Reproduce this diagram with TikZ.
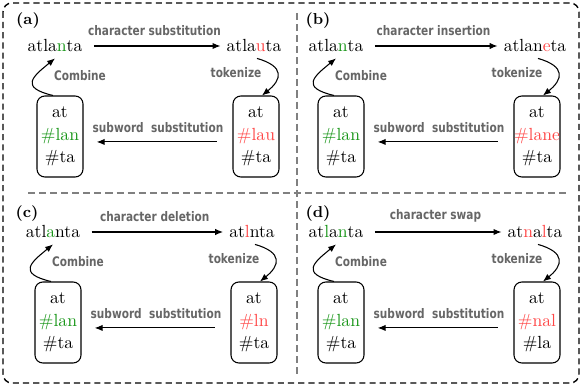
\documentclass[tikz,border=0pt]{standalone}
\usepackage{fontspec}
\newfontfamily\lblfont[FakeStretch=0.8]{DejaVu Sans}
\usepackage{xcolor}
\usepackage{tikz}
\usetikzlibrary{positioning,arrows.meta}

\definecolor{keepgreen}{RGB}{25,150,25}
\definecolor{editred}{RGB}{255,70,70}
\newcommand{\kept}[1]{\textcolor{keepgreen}{#1}}
\newcommand{\edit}[1]{\textcolor{editred}{#1}}

\begin{document}
\begin{tikzpicture}[
  x=0.2mm, y=-0.2mm,
  font=\normalsize,
  arr/.style={-{Latex[length=4.5pt,width=3.6pt]}, semithick},
  lbl/.style={font=\lblfont\bfseries\fontsize{7.5}{9}\selectfont, text=black!60, inner sep=0pt},
  wordbox/.style={draw, semithick, rounded corners=4.5pt, minimum width=0.92cm,
    minimum height=1.62cm, inner sep=0pt, align=center, font=\fontsize{10}{12.8}\selectfont},
  divider/.style={draw=gray, line width=0.6pt, dash pattern=on 4pt off 2.3pt}
]
\useasboundingbox (0,0) rectangle (582,386);
% --- frame and dividers ---
\draw[line width=0.8pt, dash pattern=on 3.5pt off 2.3pt, rounded corners=5pt] (3,3) rectangle (579,383);
\draw[divider] (297,13) -- (297,375);
\draw[divider] (28,193) -- (567,193);
% --- four panels ---
\foreach \px/\py/\lx/\ly/\pn/\src/\editname/\tgt/\midtok/\lasttok in {
  0/0/28/21/a/{atla\kept{n}ta}/{character substitution}/{atla\edit{u}ta}/{\#lau}/{\#ta},
  281/0/318/21/b/{atla\kept{n}ta}/{character insertion}/{atlan\edit{e}ta}/{\#lane}/{\#ta},
  -2/186/27/214/c/{atl\kept{a}nta}/{character deletion}/{at\edit{l}nta}/{\#ln}/{\#ta},
  281/186/318/214/d/{at\kept{l}a\kept{n}ta}/{character swap}/{at\edit{n}a\edit{l}ta}/{\#nal}/{\#la}} {
  \node[font=\small\bfseries] (tag-\pn) at (\lx,\ly) {(\pn)};
  \begin{scope}[shift={(\px,\py)}, name prefix=\pn-]
    \node (src) at (55,46) {\src};
    \node (tgt) at (254,46) {\tgt};
    \node[wordbox] (lb) at (60,136.5) {at\\\kept{\#lan}\\\#ta};
    \node[wordbox] (rb) at (256,136.5) {at\\\edit{\midtok}\\\lasttok};
    \node[lbl] (comb) at (80,76) {Combine};
    \node[lbl] (tok) at (236,73) {tokenize};
    \draw[arr, shorten <=3pt] (src) -- node[lbl, midway, above=5.5pt] {\editname} (tgt);
    \draw[arr] ([xshift=1.7pt]tgt.south) .. controls +(28,8) and +(20,-16) .. ([xshift=3.4pt]rb.north);
    \draw[arr, shorten <=9pt, shorten >=7.5pt] ([yshift=-3.1pt]rb.west)
      -- node[lbl, midway, above=5pt] {subword\ \ substitution} ([yshift=-3.1pt]lb.east);
    \draw[arr] ([xshift=-4pt]lb.north) .. controls +(-34,-8) and +(-22,18) .. (src.south);
  \end{scope}
}
\end{tikzpicture}
\end{document}
